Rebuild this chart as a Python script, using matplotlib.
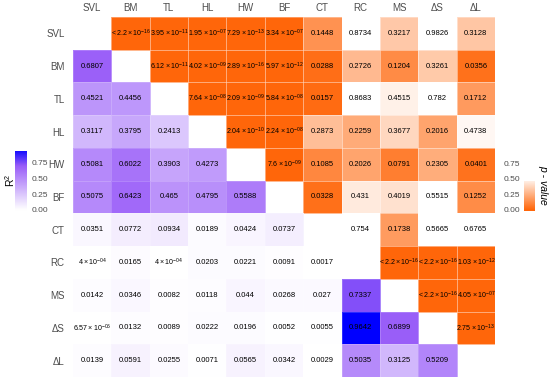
import numpy as np
import matplotlib
matplotlib.use('Agg')
import matplotlib.pyplot as plt
from matplotlib.colors import LinearSegmentedColormap

plt.rcParams['font.family'] = ['Liberation Sans', 'DejaVu Sans']
plt.rcParams['mathtext.fontset'] = 'custom'
plt.rcParams['mathtext.rm'] = 'Liberation Sans'
plt.rcParams['mathtext.it'] = 'Liberation Sans:italic'
plt.rcParams['mathtext.default'] = 'regular'

variables = ['SVL', 'BM', 'TL', 'HL', 'HW', 'BF', 'CT', 'RC', 'MS', 'ΔS', 'ΔL']

# p-valores (triangulo superior), fila por fila
p_SVL = [2.2e-16, 3.95e-11, 1.95e-07, 7.29e-13, 3.34e-07, 0.1448, 0.8734, 0.3217, 0.9826, 0.3128]
p_BM = [6.12e-11, 4.02e-09, 2.89e-16, 5.97e-12, 0.0288, 0.2726, 0.1204, 0.3261, 0.0356]
p_TL = [7.64e-08, 2.09e-09, 5.84e-08, 0.0157, 0.8683, 0.4515, 0.782, 0.1712]
p_HL = [2.04e-10, 2.24e-08, 0.2873, 0.2259, 0.3677, 0.2016, 0.4738]
p_HW = [7.6e-09, 0.1085, 0.2026, 0.0791, 0.2305, 0.0401]
p_BF = [0.0328, 0.431, 0.4019, 0.5515, 0.1252]
p_CT = [0.754, 0.1738, 0.5665, 0.6765]
p_RC = [2.2e-16, 2.2e-16, 1.03e-12]
p_MS = [2.2e-16, 4.05e-07]
p_dS = [2.75e-13]

# R2 (triangulo inferior), fila por fila
r2_BM = [0.6807]
r2_TL = [0.4521, 0.4456]
r2_HL = [0.3117, 0.3795, 0.2413]
r2_HW = [0.5081, 0.6022, 0.3903, 0.4273]
r2_BF = [0.5075, 0.6423, 0.465, 0.4795, 0.5588]
r2_CT = [0.0351, 0.0772, 0.0934, 0.0189, 0.0424, 0.0737]
r2_RC = [4e-04, 0.0165, 4e-04, 0.0203, 0.0221, 0.0091, 0.0017]
r2_MS = [0.0142, 0.0346, 0.0082, 0.0118, 0.044, 0.0268, 0.027, 0.7337]
r2_dS = [6.57e-06, 0.0132, 0.0089, 0.0222, 0.0196, 0.0052, 0.0055, 0.9642, 0.6899]
r2_dL = [0.0139, 0.0591, 0.0255, 0.0071, 0.0565, 0.0342, 0.0029, 0.5035, 0.3125, 0.5209]

p_filas = [p_SVL, p_BM, p_TL, p_HL, p_HW, p_BF, p_CT, p_RC, p_MS, p_dS]
r2_filas = [r2_BM, r2_TL, r2_HL, r2_HW, r2_BF, r2_CT, r2_RC, r2_MS, r2_dS, r2_dL]

n = len(variables)
P = np.full((n, n), np.nan)
R2 = np.full((n, n), np.nan)
for i, fila in enumerate(p_filas):
    P[i, i + 1:] = fila
for i, fila in enumerate(r2_filas):
    R2[i + 1, :i + 1] = fila


def etiqueta(v):
    # devuelve (texto, es_cientifico)
    if v == 2.2e-16:
        return r'$<2.2\times10^{-16}$', True
    if v < 0.001:
        e = int(np.floor(np.log10(v)))
        m = '%g' % round(v / 10 ** e, 2)
        return r'$%s\times10^{-%02d}$' % (m, -e), True
    return f'{v:.4f}'.rstrip('0'), False


naranja = '#FF660A'
cmap_p = LinearSegmentedColormap.from_list('p', [naranja, '#FFFFFF'])
cmap_r2 = LinearSegmentedColormap.from_list('r2', [(0, '#FFFFFF'), (0.72, '#995DF8'), (1, '#0000FF')])
r2_max = 0.9642
p_max = 0.5

fig = plt.figure(figsize=(5.5, 3.82), dpi=100)
ax = fig.add_axes([73 / 550, 1 - 377 / 382, 422 / 550, 360 / 382])

bordes = np.arange(n + 1)
ax.pcolormesh(bordes, bordes, np.ma.masked_invalid(P), cmap=cmap_p, vmin=0, vmax=p_max,
              edgecolors=(1, 1, 1, 0.18), linewidth=0.4)
ax.pcolormesh(bordes, bordes, np.ma.masked_invalid(R2), cmap=cmap_r2, vmin=0, vmax=r2_max,
              edgecolors=(1, 1, 1, 0.18), linewidth=0.4)

for i in range(n):
    for j in range(n):
        v = P[i, j] if j > i else R2[i, j]
        if np.isnan(v):
            continue
        txt, cient = etiqueta(v)
        ax.text(j + 0.5, i + 0.5, txt, ha='center', va='center',
                fontsize=5.15 if cient else 5.5, color='black')

ax.set_xlim(0, n)
ax.set_ylim(n, 0)
ax.set_xticks(np.arange(n) + 0.5)
ax.set_xticklabels(variables)
ax.set_yticks(np.arange(n) + 0.5)
ax.set_yticklabels(variables)
ax.xaxis.tick_top()
ax.tick_params(axis='x', length=0, pad=3, labelsize=7, labelcolor='#4D4D4D')
ax.tick_params(axis='y', length=0, pad=6, labelsize=7, labelcolor='#4D4D4D')
for s in ax.spines.values():
    s.set_visible(False)

# Barra de color R2
y0, y1 = -0.096, 0.941
cax1 = fig.add_axes([15 / 550, 1 - 216 / 382, 12 / 550, 65 / 382])
grad = np.linspace(y0, y1, 300).reshape(-1, 1)
cax1.imshow(grad, cmap=cmap_r2, vmin=0, vmax=r2_max, extent=[0, 1, y0, y1],
            origin='lower', aspect='auto')
cax1.set_xlim(0, 1)
cax1.set_ylim(y0, y1)
cax1.set_xticks([])
cax1.yaxis.tick_right()
cax1.set_yticks([0, 0.25, 0.5, 0.75])
cax1.set_yticklabels(['0.00', '0.25', '0.50', '0.75'])
cax1.tick_params(axis='y', length=0, pad=3, labelsize=6, labelcolor='#4D4D4D')
for s in cax1.spines.values():
    s.set_visible(False)
fig.text(10 / 550, 1 - 180 / 382, r'R$^2$', rotation=90, ha='center', va='center', fontsize=7.5)

# Barra de color p-value
z0, z1, ztop = -0.016, 0.447, 0.83
cax2 = fig.add_axes([524 / 550, 1 - 211 / 382, 11 / 550, 53 / 382])
grad2 = np.linspace(z0, z1, 300).reshape(-1, 1)
cax2.imshow(grad2, cmap=cmap_p, vmin=0, vmax=p_max, extent=[0, 1, z0, z1],
            origin='lower', aspect='auto')
cax2.set_xlim(0, 1)
cax2.set_ylim(z0, ztop)
cax2.set_xticks([])
cax2.set_yticks([0, 0.25, 0.5, 0.75])
cax2.set_yticklabels(['0.00', '0.25', '0.50', '0.75'])
cax2.tick_params(axis='y', length=0, pad=3, labelsize=6, labelcolor='#4D4D4D')
for s in cax2.spines.values():
    s.set_visible(False)
fig.text(543 / 550, 1 - 185 / 382, 'p - value', rotation=270, ha='center', va='center',
         fontsize=7.5, style='italic')

fig.savefig('out.png', dpi=100)
